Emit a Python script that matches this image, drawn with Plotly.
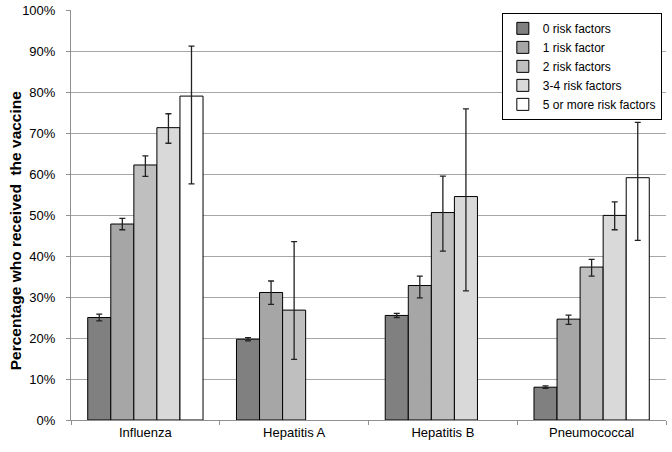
import plotly.graph_objects as go

categories = ["Influenza", "Hepatitis A", "Hepatitis B", "Pneumococcal"]
series_names = ["0 risk factors", "1 risk factor", "2 risk factors", "3-4 risk factors", "5 or more risk factors"]

values = [
    [25.0, 19.7, 25.5, 8.0],
    [47.8, 31.1, 32.8, 24.6],
    [62.2, 26.8, 50.6, 37.3],
    [71.3, None, 54.5, 49.9],
    [79.0, None, None, 59.1],
]
err_plus = [
    [0.8, 0.4, 0.5, 0.3],
    [1.4, 2.8, 2.3, 1.0],
    [2.2, 16.7, 8.9, 1.9],
    [3.4, None, 21.4, 3.3],
    [12.2, None, None, 13.5],
]
err_minus = [
    [0.8, 0.4, 0.5, 0.3],
    [1.4, 2.9, 3.0, 1.3],
    [2.8, 12.0, 9.4, 2.2],
    [3.8, None, 23.0, 3.5],
    [21.4, None, None, 15.3],
]
colors = ["#808080", "#a6a6a6", "#bfbfbf", "#d9d9d9", "#ffffff"]

fig = go.Figure()
for name, v, ep, em, c in zip(series_names, values, err_plus, err_minus, colors):
    fig.add_trace(go.Bar(
        name=name, x=categories, y=v,
        marker=dict(color=c, line=dict(color="#000000", width=1)),
        error_y=dict(type="data", symmetric=False, array=ep, arrayminus=em,
                     color="#222222", thickness=1.3, width=3),
    ))

fig.update_layout(
    width=672, height=452,
    barmode="group", bargap=0.225, bargroupgap=0,
    paper_bgcolor="white", plot_bgcolor="white",
    margin=dict(l=71, r=6, t=10, b=32),
    font=dict(family="Liberation Sans, Arial, sans-serif", size=13, color="#000000"),
    showlegend=True,
    legend=dict(x=0.993, y=0.993, xanchor="right", yanchor="top",
                bgcolor="white", bordercolor="#000000", borderwidth=1,
                font=dict(size=12), tracegroupgap=0, itemwidth=30),
    yaxis=dict(range=[0, 100], dtick=10, ticksuffix="%", automargin=False,
               showgrid=True, gridcolor="#a6a6a6", gridwidth=1,
               showline=True, linecolor="#909090", linewidth=1,
               ticks="outside", ticklen=4, tickcolor="#909090",
               ticklabelstandoff=8, zeroline=False),
    xaxis=dict(showline=True, linecolor="#909090", linewidth=1, automargin=False,
               ticks="outside", tickson="boundaries", ticklen=4, tickcolor="#909090"),
    annotations=[dict(text="<b>Percentage who received  the vaccine</b>",
                      xref="paper", yref="paper", x=-0.094, y=0.463,
                      xanchor="center", yanchor="middle", textangle=-90,
                      showarrow=False, font=dict(size=15.5))],
)

fig.write_html("out.html", config={"displayModeBar": False},
               post_script="document.body.style.margin='0';")
